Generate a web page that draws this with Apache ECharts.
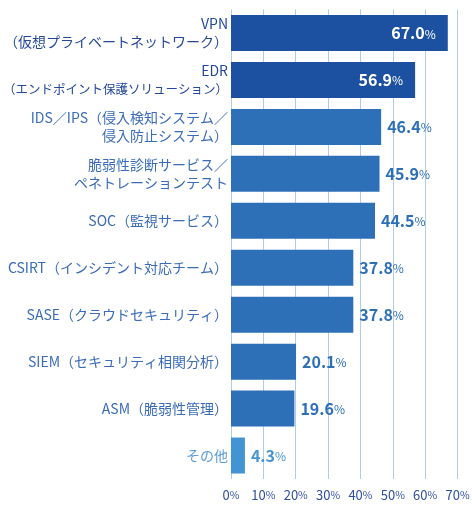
<!DOCTYPE html>
<html><head><meta charset="utf-8">
<script src="https://cdn.jsdelivr.net/npm/echarts@6/dist/echarts.min.js"></script>
<style>html,body{margin:0;padding:0;background:#fff}#c{width:472px;height:505px}</style>
</head><body><div id="c"></div>
<script>
const categories = [
  "VPN\n（仮想プライベートネットワーク）",
  "EDR\n（エンドポイント保護ソリューション）",
  "IDS／IPS（侵入検知システム／\n侵入防止システム）",
  "脆弱性診断サービス／\nペネトレーションテスト",
  "SOC（監視サービス）",
  "CSIRT（インシデント対応チーム）",
  "SASE（クラウドセキュリティ）",
  "SIEM（セキュリティ相関分析）",
  "ASM（脆弱性管理）",
  "その他"
];
const values = [67.0, 56.9, 46.4, 45.9, 44.5, 37.8, 37.8, 20.1, 19.6, 4.3];
const tiers = ["dark","dark","mid","mid","mid","mid","mid","mid","mid","light"];
const xTicks = [0,10,20,30,40,50,60,70];

const barColor = {dark:"#1c50a1", mid:"#2d70b7", light:"#4394d2"};
const catColor = {dark:"#23489a", mid:"#3a6cb8", light:"#5a9bd5"};
const FONT = "Noto Sans CJK JP";
const BASE = 14, MAXW = 232;

// fit each label line into the available width
const ctx = document.createElement("canvas").getContext("2d");
const rich = {};
for (let s = 10; s <= BASE; s += 0.5) {
  rich["f" + String(s).replace(".", "_")] = {fontSize:s, fontFamily:FONT, lineHeight:18};
}
function fitLine(line){
  ctx.font = BASE + "px '" + FONT + "'";
  const w = ctx.measureText(line).width;
  let s = BASE;
  if (w > MAXW) s = Math.floor(BASE * MAXW / w * 2) / 2;
  return "{f" + String(s).replace(".", "_") + "|" + line + "}";
}

const data = values.map((v,i)=>{
  const t = tiers[i];
  const inside = t === "dark";
  return {
    value: v,
    itemStyle:{color:barColor[t]},
    label:{
      show:true,
      position: inside ? "insideRight" : "right",
      distance: inside ? 12 : 6,
      formatter: p => "{n|" + p.value.toFixed(1) + "}{p|%}",
      rich:{
        n:{fontSize:16, fontWeight:"bold", color: inside ? "#fff" : barColor[t], fontFamily:FONT},
        p:{fontSize:12, color: inside ? "#fff" : barColor[t], fontFamily:FONT, padding:[2,0,0,0]}
      }
    }
  };
});

const chart = echarts.init(document.getElementById("c"), null, {renderer:"canvas"});
chart.setOption({
  animation:false,
  grid:{left:231, right:14.5, top:9.5, bottom:26, containLabel:false, outerBoundsMode:"none"},
  xAxis:{
    type:"value", min:0, max:70, interval:10,
    axisLine:{show:false}, axisTick:{show:false},
    splitLine:{show:true, lineStyle:{color:"#b3cbea", width:1}},
    axisLabel:{
      margin:10,
      formatter: v => xTicks.includes(v) ? "{n|" + v + "}{p|%}" : "",
      rich:{
        n:{fontSize:13, color:"#2f4f9f", fontFamily:FONT},
        p:{fontSize:10.5, color:"#2f4f9f", fontFamily:FONT}
      }
    }
  },
  yAxis:{
    type:"category", data:categories, inverse:true,
    axisLine:{show:false}, axisTick:{show:false},
    axisLabel:{
      margin:3, fontSize:BASE, lineHeight:18, fontFamily:FONT, align:"right",
      color:(v,i)=>catColor[tiers[i]],
      formatter: v => v.split("\n").map(fitLine).join("\n"),
      rich: rich
    }
  },
  series:[{
    type:"bar", data:data, barWidth:36
  }]
});
</script></body></html>
